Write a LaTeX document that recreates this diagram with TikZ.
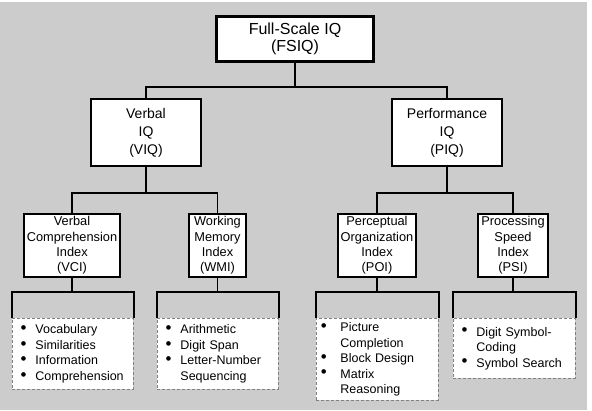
\documentclass[tikz,border=0pt]{standalone}
\usepackage{fontspec}
\setmainfont{Liberation Sans}
\begin{document}
\begin{tikzpicture}[x=1pt,y=-1pt,
  conn/.style={draw=black,line width=1.7pt},
  topbox/.style={draw=black,fill=white,line width=3.6pt,minimum width=157pt,minimum height=45pt,inner sep=0pt,align=center,font=\fontsize{16}{17}\selectfont},
  iqbox/.style={draw=black,fill=white,line width=2.4pt,minimum width=110pt,minimum height=67pt,inner sep=0pt,align=center,font=\fontsize{14}{18}\selectfont},
  idxbox/.style={draw=black,fill=white,line width=2.4pt,minimum height=63pt,inner sep=0pt,align=center,font=\fontsize{12.8}{15.3}\selectfont},
  listbox/.style={draw=black!50,fill=white,dash pattern=on 3pt off 2pt,line width=0.9pt,anchor=north west,inner ysep=0pt,align=left,font=\fontsize{12.5}{15.6}\selectfont}
]
\newcommand{\bigbul}{\raisebox{0.05ex}{\scalebox{1.35}{\textbullet}}}
\newcommand{\bul}{\makebox[14.2pt][l]{\hspace*{-0.6pt}\bigbul}}
\newcommand{\nob}{\hspace*{14.2pt}}
\newcommand{\wbul}{\makebox[19pt][l]{\hspace*{-0.6pt}\bigbul}}
\useasboundingbox (0,0) rectangle (592,410);
\fill[white] (0,0) rectangle (592,410);
\fill[black!20] (0,2) rectangle (587,410);

% top level
\node[topbox] (fsiq) at (295,39) {Full-Scale IQ\\(FSIQ)};
\node[iqbox] (viq) at (146,132.5) {Verbal\\IQ\\(VIQ)};
\node[iqbox] (piq) at (447,132.5) {Performance\\IQ\\(PIQ)};

% index level
\node[idxbox,minimum width=96pt] (vci) at (72,245.5) {Verbal\\Comprehension\\Index\\(VCI)};
\node[idxbox,minimum width=57pt] (wmi) at (217.5,245.5) {Working\\Memory\\Index\\(WMI)};
\node[idxbox,minimum width=78pt] (poi) at (377,245.5) {Perceptual\\Organization\\Index\\(POI)};
\node[idxbox,minimum width=70pt] (psi) at (513,245.5) {Processing\\Speed\\Index\\(PSI)};

% lists
\node[listbox,inner xsep=8.8pt,text width=103.4pt,minimum height=71pt] (l1) at (12,318)
  {\bul Vocabulary\\\bul Similarities\\\bul Information\\\bul Comprehension};
\node[listbox,inner xsep=8.8pt,text width=103.4pt,minimum height=71pt] (l2) at (157,318)
  {\bul Arithmetic\\\bul Digit Span\\\bul Letter-Number\\\nob Sequencing};
\node[listbox,inner xsep=5pt,text width=112pt,minimum height=82pt] (l3) at (316,318)
  {\wbul Picture\\\hspace*{19pt}Completion\\\wbul Block Design\\\wbul Matrix\\\hspace*{19pt}Reasoning};
\node[listbox,inner xsep=8.8pt,text width=104.4pt,minimum height=60pt] (l4) at (453,318)
  {\bul Digit Symbol-\\\nob Coding\\\bul Symbol Search};

% connectors
\coordinate (t0) at (295,87);
\draw[conn] (fsiq.south) -- (t0);
\draw[conn] (viq.north) |- (t0) -| (piq.north);

\coordinate (t1) at (146,193);
\draw[conn] (viq.south) -- (t1);
\draw[conn] (vci.north) |- (t1) -| (wmi.north);

\coordinate (t2) at (447,193);
\draw[conn] (piq.south) -- (t2);
\draw[conn] (poi.north) |- (t2) -| (psi.north);

\coordinate (b1) at (72,292);
\draw[conn] (vci.south) -- (b1);
\draw[conn] (l1.north west) |- (b1) -| (l1.north east);
\coordinate (b2) at (217.5,292);
\draw[conn] (wmi.south) -- (b2);
\draw[conn] (l2.north west) |- (b2) -| (l2.north east);
\coordinate (b3) at (377,292);
\draw[conn] (poi.south) -- (b3);
\draw[conn] (l3.north west) |- (b3) -| (l3.north east);
\coordinate (b4) at (513,292);
\draw[conn] (psi.south) -- (b4);
\draw[conn] (l4.north west) |- (b4) -| (l4.north east);
\end{tikzpicture}
\end{document}
